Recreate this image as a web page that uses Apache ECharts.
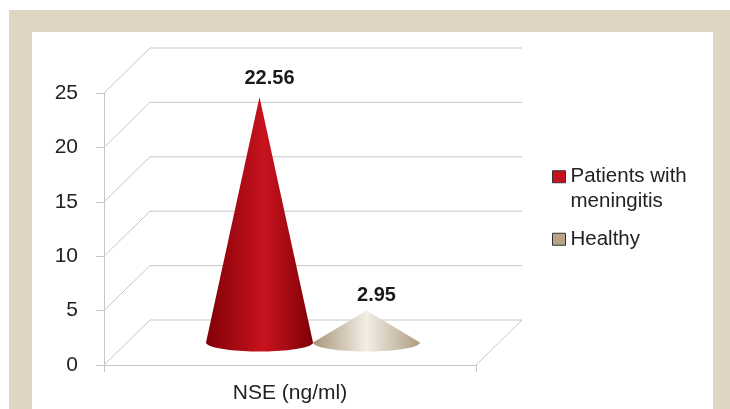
<!DOCTYPE html>
<html><head><meta charset="utf-8">
<script src="https://cdn.jsdelivr.net/npm/echarts@6/dist/echarts.min.js"></script>
<style>
html,body{margin:0;padding:0;background:#fff;}
#frame{position:absolute;left:9px;top:10px;width:721px;height:399px;background:#DED6C3;}
#panel{position:absolute;left:32px;top:32px;width:681px;height:377px;background:#fff;}
#chart{position:absolute;left:0;top:0;width:730px;height:409px;}
</style></head>
<body>
<div id="frame"></div><div id="panel"></div>
<div id="chart"></div>
<script>
const categories = ['NSE (ng/ml)'];
const seriesNames = ['Patients with meningitis', 'Healthy'];
const patientsValues = [22.56];
const healthyValues = [2.95];
const yTicks = [0, 5, 10, 15, 20, 25];

const FONT = '"Liberation Sans", Arial, sans-serif';
const DX = 46, DY = -45;        // depth offset (front -> back)
const LABEL_DY = [-19, -15];
const chart = echarts.init(document.getElementById('chart'));

const gradients = [
  [{offset:0,color:'#820007'},{offset:0.55,color:'#c8131f'},{offset:1,color:'#7e0006'}],
  [{offset:0,color:'#a8957a'},{offset:0.5,color:'#f2eee6'},{offset:1,color:'#ad9c80'}]
];

function coneItem(si){
  return function(params, api){
    const val = api.value(1);
    const base = api.coord([api.value(0), 0]);
    const top = api.coord([api.value(0), val]);
    const band = api.size([1, 0])[0];
    const half = band * 0.1438;
    const cx = base[0] + DX/2 + (si === 0 ? -half : half);
    const cy = base[1] + DY/2;
    const ay = top[1] + DY/2;
    const rx = half, ry = 9;
    const pts = [[cx, ay]];
    for (let i = 0; i <= 40; i++) {
      const t = Math.PI - Math.PI * i / 40;
      pts.push([cx + rx*Math.cos(t), cy + ry*Math.sin(t)]);
    }
    return {
      type: 'group',
      children: [
        {type:'polygon', shape:{points:pts},
         style:{fill:new echarts.graphic.LinearGradient(0,0,1,0,gradients[si])}},
        {type:'text', x: cx + 10, y: ay + LABEL_DY[si],
         style:{text: String(val), font:'bold 20px ' + FONT,
                fill:'#1a1a1a', align:'center', verticalAlign:'middle'}}
      ]
    };
  };
}

function wallItem(params, api){
  const v = api.value(0);
  const band = api.size([1,0])[0];
  const c = api.coord([0, v]);
  const xl = c[0] - band/2, xr = c[0] + band/2;
  const y = c[1];
  const st = {stroke:'#c6c6c6', lineWidth:1};
  const ch = [
    {type:'line', shape:{x1:xl, y1:y, x2:xl+DX, y2:y+DY}, style:st},
    {type:'line', shape:{x1:xl+DX, y1:y+DY, x2:xr+DX, y2:y+DY}, style:st}
  ];
  if (v === 0) {
    ch.push({type:'line', shape:{x1:xr, y1:y, x2:xr+DX, y2:y+DY}, style:st});
  }
  return {type:'group', children: ch};
}

const legendCommon = {orient:'vertical', left:552, padding:0,
  itemWidth:13, itemHeight:12, itemGap:10, icon:'rect',
  itemStyle:{borderColor:'#333', borderWidth:1}};

chart.setOption({
  animation:false,
  grid:{left:104, right:254, top:93, bottom:44},
  xAxis:{type:'category', data:categories,
    axisLine:{lineStyle:{color:'#c6c6c6'}},
    axisTick:{show:true, length:7, lineStyle:{color:'#c6c6c6'}},
    axisLabel:{fontSize:21, color:'#222', margin:18, fontFamily:FONT},
    splitLine:{show:false}},
  yAxis:{type:'value', min:0, max:25, interval:5,
    axisLine:{show:true, lineStyle:{color:'#c6c6c6'}},
    axisTick:{show:true, length:8, lineStyle:{color:'#c6c6c6'}},
    axisLabel:{fontSize:21, color:'#222', margin:26, fontFamily:FONT},
    splitLine:{show:false}},
  legend:[
    Object.assign({data:[seriesNames[0]], top:140,
     formatter:function(){return '\u00a0\nPatients with\nmeningitis';},
     textStyle:{fontSize:20.5, color:'#222', lineHeight:24.5, fontFamily:FONT}}, legendCommon),
    Object.assign({data:[seriesNames[1]], top:227,
     textStyle:{fontSize:20.5, color:'#222', lineHeight:24.5, fontFamily:FONT}}, legendCommon)
  ],
  series:[
    {type:'custom', name:'wall', renderItem:wallItem, z:1, silent:true,
     data: yTicks.map(v=>[v]), encode:{y:0}},
    {type:'custom', name:seriesNames[0], renderItem:coneItem(0), z:3,
     itemStyle:{color:'#c8101e'},
     data: categories.map((c,i)=>[i, patientsValues[i]])},
    {type:'custom', name:seriesNames[1], renderItem:coneItem(1), z:4,
     itemStyle:{color:'#b8a487'},
     data: categories.map((c,i)=>[i, healthyValues[i]])}
  ]
});
</script>
</body></html>
